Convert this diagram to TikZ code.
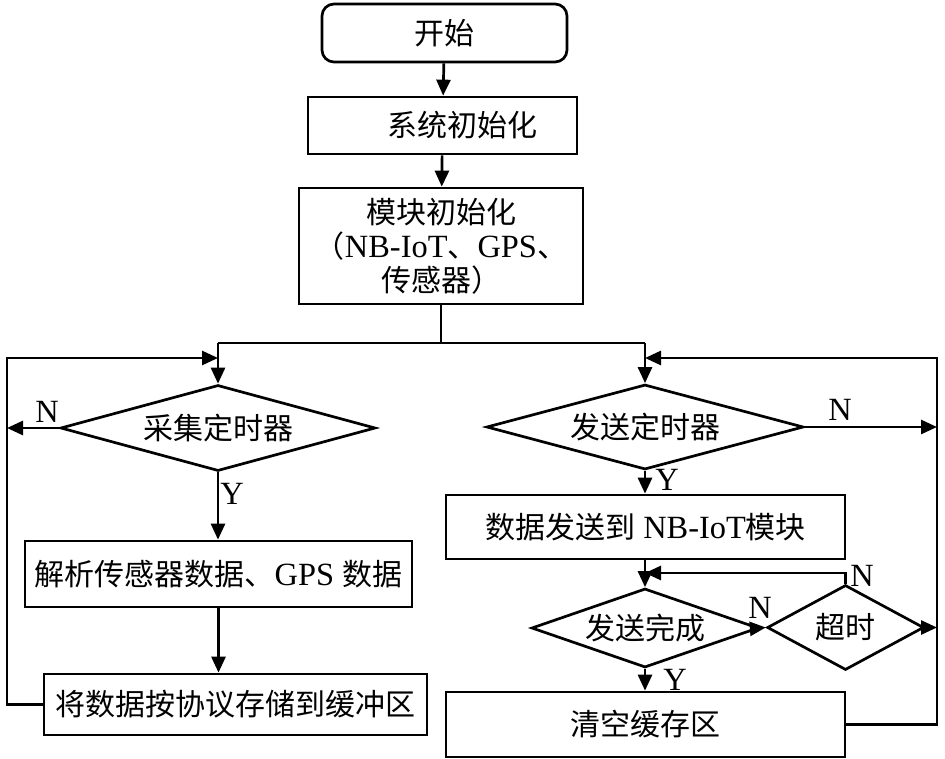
\documentclass[tikz,border=0pt]{standalone}
\usepackage{fontspec}
\setmainfont{Liberation Serif}[Scale=1.08]
\newfontfamily\cjk{Noto Sans CJK SC}
\newcommand{\cn}[1]{{\cjk #1}}
\usetikzlibrary{shapes.geometric,arrows.meta}

\begin{document}
\begin{tikzpicture}[x=1pt,y=-1pt,line width=2.7pt,
  font=\fontsize{30}{34}\selectfont,
  box/.style={draw,rectangle,inner sep=0pt},
  cond/.style={draw,diamond,aspect=3.5,inner sep=0pt},
  line/.style={-{Triangle[length=16pt,width=14pt]}},
  lbl/.style={inner sep=0pt}]
\useasboundingbox (0,0) rectangle (945,759);

% main column
\node[box,rounded corners=12pt,minimum width=245pt,minimum height=58pt] (start) at (444.5,33) {\cn{开始}};
\node[box,minimum width=269pt,minimum height=57pt] (sysinit) at (442.5,125.5) {\hspace*{40pt}\cn{系统初始化}};
\node[box,align=center,minimum width=284pt,minimum height=116pt] (modinit) at (441,246)
  {\cn{模块初始化}\\\cn{（}NB-IoT\cn{、}GPS\cn{、}\\\cn{传感器）}};

% left branch
\node[cond,minimum width=315pt,minimum height=86pt] (collect) at (218,428) {\cn{采集定时器}};
\node[box,minimum width=387pt,minimum height=66pt] (parse) at (218.5,574) {\cn{解析传感器数据、}GPS \cn{数据}};
\node[box,minimum width=383pt,minimum height=61pt] (store) at (235.5,704.5) {\cn{将数据按协议存储到缓冲区}};

% right branch
\node[cond,minimum width=317pt,minimum height=85pt] (sendtmr) at (645,427) {\cn{发送定时器}};
\node[box,minimum width=399pt,minimum height=64pt] (send) at (645.5,527) {\cn{数据发送到} NB-IoT\cn{模块}};
\node[cond,minimum width=227pt,minimum height=79pt] (done) at (645,628) {\cn{发送完成}};
\node[cond,minimum width=135pt,minimum height=85pt] (timeout) at (845.5,627.5) {\cn{超时}};
\node[box,minimum width=399pt,minimum height=65pt] (clear) at (645.5,724.5) {\cn{清空缓存区}};

% labels
\node[lbl] (nl) at (47,412) {N};
\node[lbl] (yl) at (232,494) {Y};
\node[lbl] (nr) at (840,410) {N};
\node[lbl] (yr) at (667,480) {Y};
\node[lbl] (nd) at (760,608) {N};
\node[lbl] (nt) at (862,576) {N};
\node[lbl] (yd) at (675,680) {Y};

% junctions
\coordinate (split) at (441,343);
\coordinate (ltop) at (218,343);
\coordinate (rtop) at (645,343);
\coordinate (lback) at (218,358);
\coordinate (rback) at (645,358);
\coordinate (mback) at (645,573);
\coordinate (lx) at (7,0);
\coordinate (rx) at (937,0);

\draw[line] (start) -- (sysinit);
\draw[line] (sysinit) -- (modinit);
\draw (modinit.south) -- (split);
\draw (ltop) -- (rtop);
\draw[line] (ltop) -- (collect.north);
\draw[line] (rtop) -- (sendtmr.north);

\draw[line] (collect.south) -- (parse.north -| collect.south);
\draw[line] (parse.south) -- (parse.south |- store.north);
\draw[line] (collect.west) -- (collect.west -| lx);
\draw[line] (store.west) -- (store.west -| lx) -- (lback -| lx) -- (lback);

\draw[line] (sendtmr.south) -- (send.north -| sendtmr.south);
\draw[line] (sendtmr.east) -- (sendtmr.east -| rx);
\draw[line] (send.south -| done.north) -- (done.north);
\draw[line] (done.east) -- (timeout.west);
\draw[line] (timeout.north) |- (mback);
\draw[line] (timeout.east) -- (timeout.east -| rx);
\draw[line] (done.south) -- (clear.north -| done.south);
\draw[line] (clear.east) -- (clear.east -| rx) -- (rback -| rx) -- (rback);
\end{tikzpicture}
\end{document}
